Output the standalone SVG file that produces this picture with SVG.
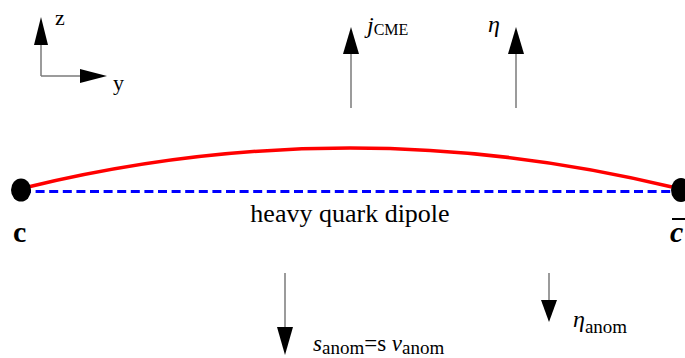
<svg xmlns="http://www.w3.org/2000/svg" width="685" height="358" viewBox="0 0 685 358" font-family="'Liberation Serif', 'Times New Roman', serif">
<style>
text{font-family:'Liberation Serif','Times New Roman',serif;fill:#000}
.i{font-style:italic}
.ln{stroke:#7a7a7a;stroke-width:1.5;fill:none}
.hd{fill:#000;stroke:none}
</style>
<rect width="685" height="358" fill="#fff"/>
<g id="connectors">
<path d="M28,187 Q350,109 672,187" fill="none" stroke="#ff0000" stroke-width="3.5"/>
<line x1="22" y1="191.5" x2="678" y2="191.5" stroke="#0000ff" stroke-width="3" stroke-dasharray="9,4.6"/>
<line class="ln" x1="41" y1="76" x2="41" y2="40"/>
<polygon class="hd" points="41,17 34,45 48,45"/>
<line class="ln" x1="41" y1="76" x2="85" y2="76"/>
<polygon class="hd" points="107,76 80,69 80,83"/>
<line class="ln" x1="351" y1="108" x2="351" y2="50"/>
<polygon class="hd" points="351,27 343,54 359,54"/>
<line class="ln" x1="516" y1="108" x2="516" y2="50"/>
<polygon class="hd" points="516,27 508,54 524,54"/>
<line class="ln" x1="285" y1="273" x2="285" y2="330"/>
<polygon class="hd" points="285,355 277,327 293,327"/>
<line class="ln" x1="549" y1="273" x2="549" y2="303"/>
<polygon class="hd" points="549,322 541,300 557,300"/>
</g>
<g id="node-c">
<ellipse cx="21" cy="190" rx="10" ry="11.5" fill="#000"/>
<text x="13" y="242" font-size="30" font-weight="bold">c</text>
</g>
<g id="node-cbar">
<ellipse cx="681" cy="190" rx="10" ry="12" fill="#000"/>
<text class="i" x="670" y="242" font-size="30" font-weight="bold">c</text>
<line x1="672" y1="219" x2="685" y2="219" stroke="#000" stroke-width="2"/>
</g>
<g id="label-dipole">
<text x="350" y="222" font-size="26" text-anchor="middle">heavy quark dipole</text>
</g>
<g id="label-axes">
<text x="55" y="25" font-size="22">z</text>
<text x="113" y="90" font-size="22">y</text>
</g>
<g id="label-jcme">
<text x="367" y="33"><tspan class="i" font-size="24">j</tspan><tspan font-size="16" dy="2">CME</tspan></text>
</g>
<g id="label-eta">
<text class="i" x="488" y="32" font-size="24">η</text>
</g>
<g id="label-s">
<text x="313" y="351"><tspan class="i" font-size="23">s</tspan><tspan font-size="19" dy="3">anom</tspan><tspan font-size="23" dy="-3">=s </tspan><tspan class="i" font-size="23">v</tspan><tspan font-size="19" dy="3">anom</tspan></text>
</g>
<g id="label-etaanom">
<text x="573" y="327"><tspan class="i" font-size="24">η</tspan><tspan font-size="19" dy="6">anom</tspan></text>
</g>
</svg>
